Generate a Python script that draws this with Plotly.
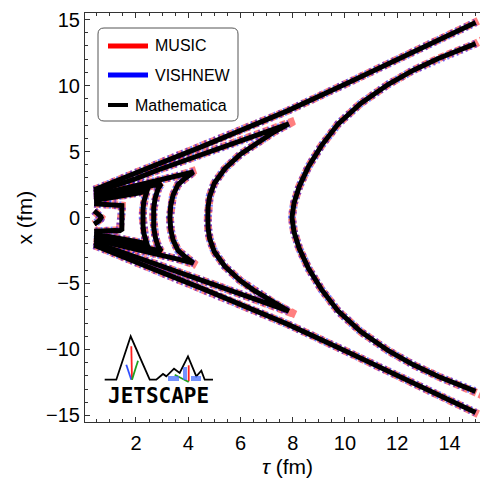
import plotly.graph_objects as go

# freeze-out surfaces, upper half only (x >= 0)
# each closed contour runs from tau0 along the outer branch to the tip,
# then back along the inner branch down to x = 0
c1_tau = [0.40, 0.50, 0.59, 0.65, 0.67]
c1_x = [0.50, 0.38, 0.24, 0.10, 0.00]

c2_tau = [0.40, 0.80, 1.20, 1.38, 1.46, 1.46, 1.44]
c2_x = [1.05, 1.00, 0.98, 1.00, 0.90, 0.55, 0.00]

c3_tau = [0.40, 1.00, 1.60, 2.10, 2.42, 2.36, 2.30, 2.27, 2.26]
c3_x = [1.28, 1.45, 1.65, 1.85, 2.00, 1.70, 1.20, 0.60, 0.00]

c4_tau = [0.40, 1.00, 1.60, 2.20, 2.70, 2.97, 2.85, 2.74, 2.68, 2.66]
c4_x = [1.48, 1.70, 1.95, 2.22, 2.45, 2.55, 2.20, 1.50, 0.75, 0.00]

c5_tau = [0.40, 1.00, 1.80, 2.84, 3.60, 4.20, 3.90, 3.61, 3.42, 3.33, 3.30]
c5_x = [1.68, 1.95, 2.33, 2.80, 3.15, 3.45, 3.00, 2.50, 1.70, 0.90, 0.00]

c6_tau = [0.40, 1.00, 2.00, 2.84, 4.00, 5.50, 6.80, 7.85, 7.30, 6.50, 6.00, 5.40, 5.00, 4.82, 4.76, 4.75]
c6_x = [1.88, 2.25, 2.95, 3.60, 4.40, 5.45, 6.35, 7.10, 6.50, 5.50, 4.80, 3.70, 2.60, 1.60, 0.80, 0.00]

# outermost surface is cut at tau = 15 fm: two separate branches
c7_outer_tau = [0.40, 1.50, 2.84, 4.50, 6.00, 7.82, 10.0, 12.5, 15.0]
c7_outer_x = [2.10, 3.00, 4.05, 5.35, 6.60, 8.10, 10.1, 12.4, 14.78]
c7_inner_tau = [15.0, 13.57, 12.6, 11.66, 10.6, 9.74, 9.10, 8.60, 8.25, 8.05, 7.97]
c7_inner_x = [13.18, 12.05, 11.15, 10.1, 8.65, 7.10, 5.45, 3.85, 2.35, 1.10, 0.00]

# MUSIC surfaces reach slightly further at the sharp tips and ends
music_tip_c5 = [4.30, 3.60]
music_tip_c6 = [8.10, 7.35]
music_end_outer = [15.10, 14.90]
music_end_inner = [15.40, 13.60]


def closed(tau, x):
    return tau + tau[::-1], x + [-v for v in x[::-1]]


def with_tip(tau, x, tip):
    k = tau.index(max(tau))
    tau, x = list(tau), list(x)
    tau[k], x[k] = tip
    return tau, x


def join(pieces):
    tt, xx = [], []
    for t, x in pieces:
        tt += list(t) + [None]
        xx += list(x) + [None]
    return tt, xx


small = [closed(c1_tau, c1_x), closed(c2_tau, c2_x), closed(c3_tau, c3_x), closed(c4_tau, c4_x)]

math_t, math_x = join(small + [
    closed(c5_tau, c5_x),
    closed(c6_tau, c6_x),
    (c7_outer_tau, c7_outer_x),
    (c7_outer_tau, [-v for v in c7_outer_x]),
    closed(c7_inner_tau, c7_inner_x),
])

mo_t = c7_outer_tau + [music_end_outer[0]]
mo_x = c7_outer_x + [music_end_outer[1]]
mi_t = [music_end_inner[0]] + c7_inner_tau
mi_x = [music_end_inner[1]] + c7_inner_x
music_t, music_x = join(small + [
    closed(*with_tip(c5_tau, c5_x, music_tip_c5)),
    closed(*with_tip(c6_tau, c6_x, music_tip_c6)),
    (mo_t, mo_x),
    (mo_t, [-v for v in mo_x]),
    closed(mi_t, mi_x),
])

fig = go.Figure()
fig.add_trace(go.Scatter(x=music_t, y=music_x, mode="lines", name="MUSIC",
                         line=dict(color="rgba(255,0,0,0.5)", width=8, dash="6px,3px")))
fig.add_trace(go.Scatter(x=math_t, y=math_x, mode="lines", name="VISHNEW",
                         line=dict(color="rgba(0,0,255,0.5)", width=8, dash="2px,3px")))
fig.add_trace(go.Scatter(x=math_t, y=math_x, mode="lines", name="Mathematica",
                         line=dict(color="black", width=5)))

# pixel -> paper helpers for the legend box, logo and axis titles
L, R, T, B = 77, 482, 5, 414


def px(X):
    return (X - L) / (R - L)


def py(Y):
    return (B - Y) / (B - T)


def path(points):
    return "M " + " L ".join("%.4f,%.4f" % (px(a), py(b)) for a, b in points)


shapes = []
# legend frame with rounded corners
x0, y0, x1, y1, r = 90, 20, 230, 113, 6
rx, ry = r / (R - L), r / (B - T)
shapes.append(dict(
    type="path", xref="paper", yref="paper",
    path=("M %f,%f L %f,%f Q %f,%f %f,%f L %f,%f Q %f,%f %f,%f L %f,%f Q %f,%f %f,%f L %f,%f Q %f,%f %f,%f Z" % (
        px(x0) + rx, py(y0), px(x1) - rx, py(y0), px(x1), py(y0), px(x1), py(y0) - ry,
        px(x1), py(y1) + ry, px(x1), py(y1), px(x1) - rx, py(y1),
        px(x0) + rx, py(y1), px(x0), py(y1), px(x0), py(y1) + ry,
        px(x0), py(y0) - ry, px(x0), py(y0), px(x0) + rx, py(y0))),
    line=dict(color="#555555", width=1), fillcolor="white", layer="above"))
for (xa, xb, yy, col, w) in [(100, 140, 38, "#ff0000", 5), (100, 140, 67, "#0000ff", 5), (100, 120, 97, "black", 4)]:
    shapes.append(dict(type="line", xref="paper", yref="paper", x0=px(xa), x1=px(xb), y0=py(yy), y1=py(yy),
                       line=dict(color=col, width=w), layer="above"))

# JETSCAPE logo
shapes.append(dict(type="path", xref="paper", yref="paper", layer="above",
                   path=path([(96.7, 371.7), (108.3, 371.7), (122.7, 328.3), (141.7, 371.7), (148.3, 371.7),
                              (155, 366), (158.3, 368.3), (166, 360.7), (171.7, 365), (180, 348.3),
                              (188.3, 368.3), (193.3, 362.7), (196.7, 371.7), (205, 371.7)]),
                   line=dict(color="black", width=1.8)))
for (a, b, col) in [((123.3, 338.3), (124, 371.7), "#ff2020"), ((118.3, 356.7), (123.3, 371.7), "#3050ff"),
                    ((130, 352.7), (124, 371.7), "#20a020"), ((180.7, 357.3), (180.7, 373.3), "#ff2020"),
                    ((166.7, 366.7), (180.7, 374), "#20a020")]:
    shapes.append(dict(type="line", xref="paper", yref="paper", layer="above",
                       x0=px(a[0]), y0=py(a[1]), x1=px(b[0]), y1=py(b[1]), line=dict(color=col, width=1.8)))
for (a, b) in [((160, 368), (171, 373)), ((175, 359), (179, 372)), ((183, 368), (193, 373))]:
    shapes.append(dict(type="rect", xref="paper", yref="paper", layer="above",
                       x0=px(a[0]), y0=py(a[1]), x1=px(b[0]), y1=py(b[1]),
                       line=dict(width=0), fillcolor="rgba(70,110,255,0.75)"))

annotations = [
    dict(x=px(145), y=py(38), text="MUSIC"),
    dict(x=px(145), y=py(67), text="VISHNEW"),
    dict(x=px(125), y=py(97), text="Mathematica"),
]
for a in annotations:
    a.update(xref="paper", yref="paper", xanchor="left", yanchor="middle", showarrow=False,
             font=dict(size=16, color="black", family="Liberation Sans, Arial"))
annotations.append(dict(x=px(150), y=py(388), xref="paper", yref="paper", text="<b>JETSCAPE</b>",
                        showarrow=False, xanchor="center", yanchor="middle",
                        font=dict(size=21, color="black", family="DejaVu Sans Mono")))
# axis titles
annotations.append(dict(x=0.5, y=py(458), xref="paper", yref="paper", text="<i>τ</i> (fm)",
                        showarrow=False, xanchor="center", yanchor="middle",
                        font=dict(size=21, color="black", family="Liberation Sans, Arial")))
annotations.append(dict(x=px(16), y=0.5, xref="paper", yref="paper", text="x (fm)", textangle=-90,
                        showarrow=False, xanchor="center", yanchor="middle",
                        font=dict(size=21, color="black", family="Liberation Sans, Arial")))

fig.update_layout(
    width=488, height=478,
    margin=dict(l=L, r=488 - R, t=T, b=478 - B),
    plot_bgcolor="white", paper_bgcolor="white",
    showlegend=False,
    font=dict(family="Liberation Sans, Arial", size=20, color="black"),
    shapes=shapes, annotations=annotations,
)
axis_common = dict(ticks="inside", ticklen=5, tickcolor="#333333", tickwidth=1,
                   showline=True, linecolor="#333333", linewidth=1, mirror="ticks",
                   showgrid=False, zeroline=False, automargin=False)
fig.update_xaxes(range=[0.05, 15.55], dtick=2, tick0=0,
                 minor=dict(dtick=0.5, ticks="inside", ticklen=3, tickcolor="#333333"),
                 ticklabelstandoff=3, **axis_common)
fig.update_yaxes(range=[-15.5, 15.5], dtick=5, tick0=0,
                 minor=dict(dtick=1, ticks="inside", ticklen=3, tickcolor="#333333"),
                 ticklabelstandoff=0, **axis_common)

fig.write_html("out.html")
